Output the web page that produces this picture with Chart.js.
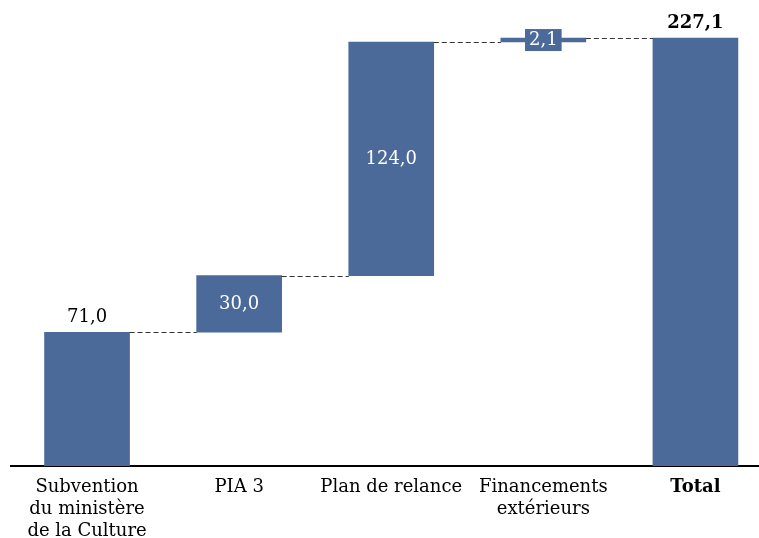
<!DOCTYPE html>
<html>
<head>
<meta charset="utf-8">
<script src="https://cdn.jsdelivr.net/npm/chart.js@4/dist/chart.umd.min.js"></script>
<style>
  html, body { margin: 0; padding: 0; background: #ffffff; }
  #wrap { width: 759px; height: 538px; position: relative; }
</style>
</head>
<body>
<div id="wrap"><canvas id="c"></canvas></div>
<script>
// Categories (multi-line labels)
const categories = [
  ["Subvention", "du ministère", "de la Culture"],
  ["PIA 3"],
  ["Plan de relance"],
  ["Financements", "extérieurs"],
  ["Total"]
];
// Step values of the waterfall
const stepValues = [71.0, 30.0, 124.0, 2.1];
const totalValue = 227.1;
// Displayed value labels
const valueLabels = ["71,0", "30,0", "124,0", "2,1", "227,1"];

// Build floating bars from the values
const floating = [];
let run = 0;
stepValues.forEach((v, i) => { floating.push({ x: i, y: [run, run + v] }); run += v; });
floating.push({ x: stepValues.length, y: [0, totalValue] });

const BAR = '#4B6A9A';
const FONT = 'DejaVu Serif';

const decor = {
  id: 'decor',
  afterDatasetsDraw(chart) {
    const ctx = chart.ctx;
    const meta = chart.getDatasetMeta(0);
    const ys = chart.scales.y;
    // dashed connectors
    ctx.save();
    ctx.strokeStyle = '#333333';
    ctx.lineWidth = 1;
    ctx.setLineDash([5, 3]);
    for (let i = 0; i < floating.length - 1; i++) {
      const level = floating[i].y[1];
      const py = Math.round(ys.getPixelForValue(level)) + 0.5;
      const a = meta.data[i], b = meta.data[i + 1];
      ctx.beginPath();
      ctx.moveTo(a.x + a.width / 2, py);
      ctx.lineTo(b.x - b.width / 2, py);
      ctx.stroke();
    }
    ctx.restore();
    // value labels
    ctx.save();
    ctx.textAlign = 'center';
    ctx.textBaseline = 'middle';
    meta.data.forEach((el, i) => {
      const top = Math.min(el.y, el.base);
      const bot = Math.max(el.y, el.base);
      if (i === 0) {
        ctx.font = '18px "' + FONT + '"';
        ctx.fillStyle = '#000';
        ctx.fillText(valueLabels[i], el.x, top - 15);
      } else if (i === 4) {
        ctx.font = 'bold 18px "' + FONT + '"';
        ctx.fillStyle = '#000';
        ctx.fillText(valueLabels[i], el.x, top - 15);
      } else if (i === 3) {
        ctx.font = '18px "' + FONT + '"';
        const cy = (top + bot) / 2;
        const w = ctx.measureText(valueLabels[i]).width + 8;
        ctx.fillStyle = BAR;
        ctx.fillRect(el.x - w / 2, cy - 11, w, 22);
        ctx.fillStyle = '#fff';
        ctx.fillText(valueLabels[i], el.x, cy);
      } else {
        ctx.font = '18px "' + FONT + '"';
        ctx.fillStyle = '#fff';
        ctx.fillText(valueLabels[i], el.x, (top + bot) / 2);
      }
    });
    ctx.restore();
  }
};

new Chart(document.getElementById('c'), {
  type: 'bar',
  data: {
    datasets: [{
      data: floating,
      backgroundColor: BAR,
      borderWidth: 0,
      barThickness: 85
    }]
  },
  options: {
    responsive: true,
    maintainAspectRatio: false,
    animation: false,
    layout: { padding: { left: 11, right: 0, top: 0, bottom: 0 } },
    plugins: { legend: { display: false }, tooltip: { enabled: false } },
    scales: {
      x: {
        type: 'linear',
        offset: false,
        min: -0.5,
        max: 4.418,
        grid: { display: false, drawTicks: false, offset: false },
        border: { display: true, color: '#000', width: 2 },
        afterBuildTicks(scale) {
          scale.ticks = categories.map((_, i) => ({ value: i }));
        },
        afterFit(scale) { scale.height = 72; },
        ticks: {
          autoSkip: false,
          maxRotation: 0,
          padding: 11,
          color: '#000',
          callback: (v) => categories[v] || '',
          font: (ctx) => ({ family: FONT, size: 18, lineHeight: 1.2, weight: ctx.index === 4 ? 'bold' : 'normal' })
        }
      },
      y: {
        display: false,
        min: 0,
        max: 247.3
      }
    }
  },
  plugins: [decor]
});
</script>
</body>
</html>
